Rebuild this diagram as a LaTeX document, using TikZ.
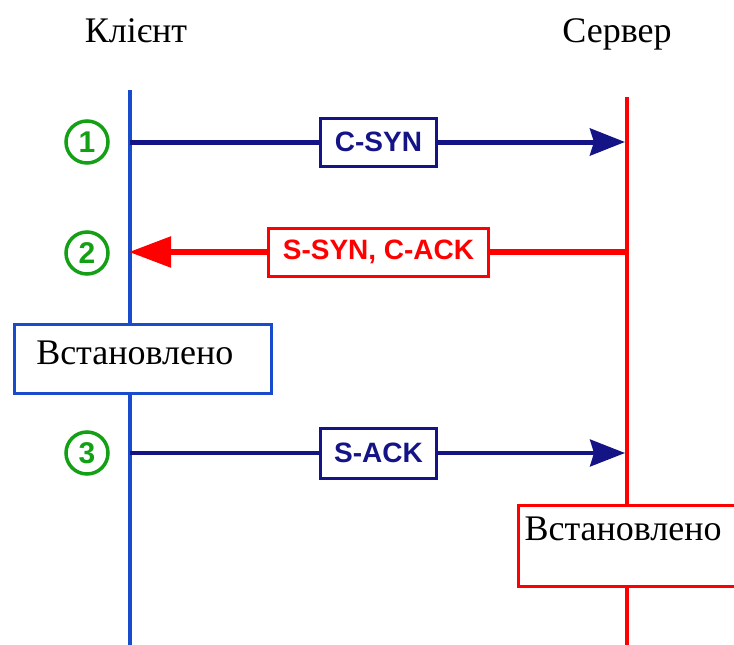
\documentclass[tikz,border=0pt]{standalone}
\usepackage{fontspec}
\setmainfont{Liberation Serif}
\newfontfamily\labelfont{Liberation Sans}
\usetikzlibrary{arrows.meta}
\definecolor{navy}{RGB}{20,20,135}
\definecolor{lifeblue}{RGB}{25,75,205}
\definecolor{stepgreen}{RGB}{20,160,20}
\tikzset{actor/.style={font=\fontsize{36}{40}\selectfont,anchor=base,inner sep=0pt},
 life/.style={line width=4pt},
 msg/.style={draw,fill=white,line width=3pt,minimum height=48pt,inner xsep=14pt,font=\labelfont\bfseries\fontsize{28}{30}\selectfont},
 num/.style={circle,draw=stepgreen,text=stepgreen,line width=3.5pt,minimum size=42pt,inner sep=0pt,font=\labelfont\bfseries\fontsize{30}{32}\selectfont},
 donebox/.style={draw,fill=white,anchor=north west,inner ysep=0pt,text height=24pt,align=left,font=\fontsize{36}{40}\selectfont}}

\begin{document}
\begin{tikzpicture}[x=1pt,y=-1pt]
\useasboundingbox (0,0) rectangle (734,645);
\node[actor] (client) at (136,42) {Клієнт};
\node[actor] (server) at (617,42) {Сервер};
% lifelines
\coordinate (cTop) at (130,90);\coordinate (cBot) at (130,645);
\coordinate (sTop) at (627,97);\coordinate (sBot) at (627,645);
\draw[life,lifeblue] (cTop)--(cBot);
\draw[life,red] (sTop)--(sBot);
% messages
\coordinate (c1) at (130,142);\coordinate (s1) at (627,142);
\coordinate (c2) at (130,252);\coordinate (s2) at (627,252);
\coordinate (c3) at (130,453);\coordinate (s3) at (627,453);
\draw[navy,line width=5pt,-{Stealth[length=35pt,width=27pt,inset=4pt]},shorten >=2pt] (c1)--(s1) node[msg,midway] (m1){C-SYN};
\draw[red,line width=5.5pt,-{Triangle[length=42pt,width=30pt]},shorten >=-1pt] (s2)--(c2) node[msg,midway] (m2){S-SYN, C-ACK};
\draw[navy,line width=3.5pt,-{Stealth[length=35pt,width=27pt,inset=4pt]},shorten >=2pt] (c3)--(s3) node[msg,midway,minimum height=50pt] (m3){S-ACK};
\node[num] (n1) at (87,142) {1};
\node[num] (n2) at (87,253) {2};
\node[num] (n3) at (87,453) {3};
% established
\node[donebox,draw=lifeblue,line width=2.5pt,inner xsep=22pt,text width=213pt,minimum height=69pt,text depth=12pt] (cDone) at (13,323) {Встановлено};
\node[donebox,draw=red,line width=3pt,inner ysep=11pt,inner xsep=6pt,text width=218pt,text depth=35pt] (sDone) at (517,504) {Встановлено};
\end{tikzpicture}
\end{document}
